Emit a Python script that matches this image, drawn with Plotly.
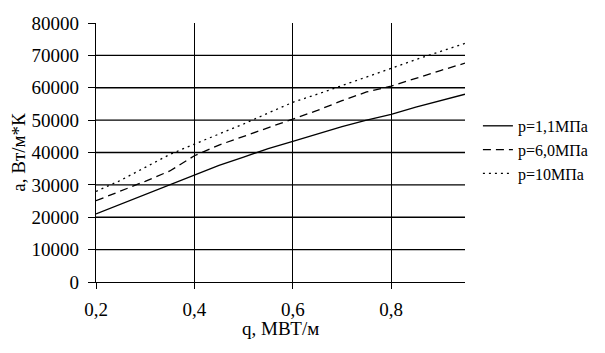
import plotly.graph_objects as go

q = [0.2, 0.25, 0.3, 0.35, 0.4, 0.45, 0.5, 0.55, 0.6, 0.65, 0.7, 0.75, 0.8, 0.85, 0.9, 0.95]
a_p11 = [21000, 24000, 27000, 30000, 33100, 36000, 38600, 41200, 43400, 45700, 48000, 50000, 51800, 54000, 56000, 58000]
a_p60 = [25100, 28000, 31100, 34300, 39000, 42300, 45000, 47800, 50500, 53000, 56000, 58700, 60500, 63000, 65300, 67600]
a_p10 = [28000, 31400, 35400, 39400, 42600, 45600, 48800, 52200, 55500, 58000, 60600, 63300, 66000, 68700, 71200, 73700]
names = ["p=1,1МПа", "p=6,0МПа", "p=10МПа"]
dashes = ["solid", "8px,5px", "2px,4px"]
y_ticks = [0, 10000, 20000, 30000, 40000, 50000, 60000, 70000, 80000]
x_ticks = [0.2, 0.4, 0.6, 0.8]
x_title = "q, МВТ/м"
y_title = "a, Вт/м*К"

fig = go.Figure()
for ys, nm, ds in zip([a_p11, a_p60, a_p10], names, dashes):
    fig.add_trace(go.Scatter(x=q, y=ys, mode="lines", name=nm,
                             line=dict(color="black", width=1.3, dash=ds)))

for t in y_ticks[1:-1]:
    fig.add_shape(type="line", xref="paper", x0=0, x1=1, yref="y", y0=t, y1=t,
                  line=dict(color="black", width=1.3), layer="below")

FAM = "Liberation Serif"
fig.add_annotation(text=x_title, xref="paper", yref="paper", x=0.5, y=0,
                   xanchor="center", yanchor="top", yshift=-34, showarrow=False,
                   font=dict(family=FAM, size=19, color="black"))

fig.update_layout(
    width=605, height=353,
    margin=dict(l=96, r=138, t=23, b=71),
    paper_bgcolor="white", plot_bgcolor="white",
    separators=", ",
    font=dict(family=FAM, color="black", size=19),
    showlegend=True,
    legend=dict(x=1.035, xanchor="left", y=0.51, yanchor="middle",
                font=dict(size=16, family=FAM, color="black"), tracegroupgap=0,
                bgcolor="rgba(0,0,0,0)"),
    xaxis=dict(range=[0.2, 0.95], tickvals=x_ticks, tickformat=".1f",
               tickfont=dict(family=FAM, size=19, color="black"),
               showgrid=True, gridcolor="black", gridwidth=1.3,
               showline=True, linecolor="black", linewidth=1.3,
               ticks="outside", ticklen=6, tickcolor="black",
               ticklabelstandoff=4,
               zeroline=False),
    yaxis=dict(range=[0, 80000], tickvals=y_ticks, tickformat="d",
               tickfont=dict(family=FAM, size=19, color="black"),
               showgrid=False,
               showline=True, linecolor="black", linewidth=1.3,
               ticks="outside", ticklen=7, tickcolor="black",
               ticklabelstandoff=5,
               zeroline=False,
               title=dict(text=y_title, standoff=0,
                          font=dict(family=FAM, size=19, color="black"))),
)
fig.write_html("out.html")
